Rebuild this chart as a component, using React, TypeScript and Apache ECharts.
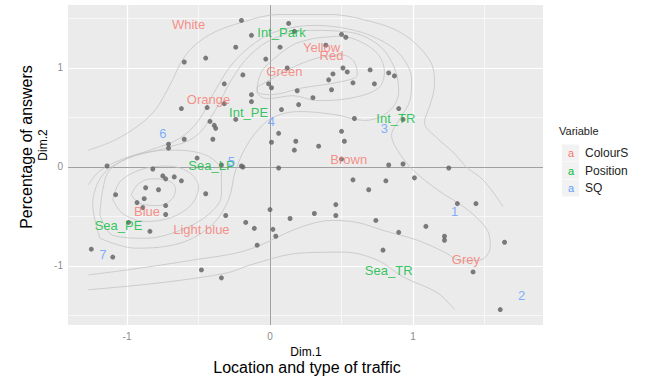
import React, { useEffect, useRef } from "react";
import * as echarts from "echarts";

// ---------- data ----------
const xTicks = [-1, 0, 1];
const yTicks = [-1, 0, 1];
const xMinor = [-0.5, 0.5, 1.5];
const yMinor = [-1.5, -0.5, 0.5, 1.5];

// individuals (Dim.1, Dim.2)
const individuals: number[][] = [
  [-0.20, 1.48], [-0.13, 1.33], [-0.24, 1.21], [-0.45, 1.10], [-0.60, 1.06], [-0.03, 1.09],
  [-0.19, 0.93], [-0.32, 0.84], [-0.01, 0.84], [0.01, 0.80], [-0.13, 0.73], [-0.13, 0.66],
  [-0.62, 0.59], [-0.44, 0.60], [-0.32, 0.64], [-0.24, 0.48], [-0.42, 0.46], [-0.39, 0.42],
  [-0.38, 0.39], [-0.60, 0.28], [-0.40, 0.28], [-0.71, 0.23], [-0.71, 0.19], [0.01, 0.25],
  [-0.51, 0.09], [-1.14, 0.01], [-0.34, 0.02], [-0.20, 0.01], [-0.19, 0.00], [0.13, 1.45],
  [0.17, 1.37], [0.07, 1.21], [0.50, 1.34], [0.53, 1.31], [0.39, 1.23], [0.12, 1.00],
  [0.51, 1.00], [0.54, 0.96], [0.70, 0.98], [0.83, 0.95], [0.87, 0.92], [0.44, 0.94],
  [0.41, 0.88], [0.58, 0.85], [0.73, 0.84], [0.43, 0.78], [0.19, 0.77], [0.30, 0.70],
  [0.20, 0.63], [0.08, 0.58], [0.90, 0.59], [0.93, 0.48], [0.59, 0.49], [0.06, 0.34],
  [0.50, 0.36], [0.18, 0.26], [0.52, 0.26], [0.17, 0.17], [0.34, 0.21], [0.50, 0.08],
  [0.83, 0.02], [0.93, 0.03], [1.25, -0.01], [0.06, -0.01], [-0.82, -0.02], [-0.75, -0.09],
  [-0.73, -0.12], [-0.67, -0.10], [-0.62, -0.14], [-0.87, -0.21], [-0.78, -0.23], [-1.08, -0.28],
  [-0.45, -0.27], [-0.88, -0.32], [-0.73, -0.39], [-0.93, -0.36], [-0.89, -0.41], [-0.73, -0.48],
  [-0.31, -0.49], [0.00, -0.43], [-0.17, -0.56], [-0.11, -0.62], [0.02, -0.63], [0.04, -0.70],
  [-0.99, -0.56], [-0.84, -0.65], [-0.09, -0.79], [-1.25, -0.83], [-1.10, -0.91], [-0.48, -1.04],
  [-0.34, -1.12], [1.01, -0.11], [0.58, -0.13], [0.81, -0.14], [0.69, -0.23], [0.46, -0.38],
  [0.46, -0.49], [0.31, -0.47], [0.14, -0.52], [1.31, -0.37], [1.44, -0.37], [0.74, -0.54],
  [0.90, -0.66], [1.09, -0.60], [1.22, -0.70], [1.22, -0.74], [1.64, -0.76], [0.79, -0.84],
  [1.42, -1.06], [1.61, -1.44],
];

// variable categories
const colourNames = ["White", "Yellow", "Red", "Green", "Orange", "Brown", "Blue", "Light blue", "Grey"];
const colourX = [-0.57, 0.36, 0.43, 0.10, -0.43, 0.55, -0.86, -0.48, 1.37];
const colourY = [1.44, 1.21, 1.13, 0.96, 0.68, 0.08, -0.45, -0.63, -0.93];

const positionNames = ["Int_Park", "Int_PE", "Int_TR", "Sea_LP", "Sea_PE", "Sea_TR"];
const positionX = [0.08, -0.15, 0.88, -0.41, -1.06, 0.83];
const positionY = [1.36, 0.55, 0.49, 0.01, -0.59, -1.05];

const sqNames = ["1", "2", "3", "4", "5", "6", "7"];
const sqX = [1.29, 1.76, 0.80, 0.01, -0.27, -0.75, -1.17];
const sqY = [-0.45, -1.30, 0.39, 0.46, 0.06, 0.34, -0.88];

const legendNames = ["ColourS", "Position", "SQ"];
const legendColors = ["#F8766D", "#00BA38", "#619CFF"];

// density contours
const contourOuterTop: number[][] = [
  [-1.27, 0.17], [-1.06, 0.29], [-0.83, 0.53], [-0.71, 0.80], [-0.59, 1.13], [-0.43, 1.33],
  [-0.20, 1.46], [0.07, 1.54], [0.42, 1.54], [0.73, 1.46], [0.91, 1.36], [1.05, 1.20],
  [1.14, 1.00], [1.15, 0.83], [1.12, 0.63], [1.08, 0.45], [1.17, 0.29], [1.28, 0.15],
  [1.38, -0.01], [1.49, -0.13], [1.63, -0.40],
];
const contourOuterBottom: number[][] = [
  [-1.27, -1.24], [-0.77, -1.17], [-0.30, -1.07], [-0.14, -0.99], [0.21, -0.87], [0.51, -0.86],
  [0.75, -0.94], [0.93, -1.11], [1.17, -1.27], [1.29, -1.44],
];
const contourLevel2: number[][] = [
  [-1.27, -1.09], [-1.00, -1.04], [-0.54, -0.94], [-0.16, -0.84], [0.21, -0.61], [0.44, -0.54],
  [0.61, -0.56], [0.79, -0.64], [1.03, -0.74], [1.22, -0.86], [1.34, -0.95], [1.47, -0.94],
  [1.54, -0.81], [1.52, -0.64], [1.38, -0.43], [1.17, -0.23], [1.00, -0.03], [0.90, 0.15],
  [0.85, 0.32], [0.91, 0.49], [0.98, 0.68], [0.99, 0.88], [0.93, 1.10], [0.80, 1.26],
  [0.59, 1.38], [0.31, 1.43], [0.07, 1.38], [-0.10, 1.26], [-0.27, 1.03], [-0.40, 0.73],
  [-0.50, 0.47], [-0.63, 0.29], [-0.84, 0.17], [-1.05, 0.07], [-1.20, -0.05], [-1.27, -0.18],
];
const contourLevel3: number[][] = [
  [-1.19, -0.72], [-1.24, -0.38], [-1.17, -0.08], [-0.99, 0.09], [-0.73, 0.19], [-0.52, 0.31],
  [-0.38, 0.58], [-0.27, 0.88], [-0.14, 1.13], [0.03, 1.30], [0.28, 1.38], [0.56, 1.36],
  [0.76, 1.23], [0.87, 1.00], [0.90, 0.76], [0.83, 0.56], [0.66, 0.47], [0.45, 0.53],
  [0.21, 0.56], [0.01, 0.49], [-0.14, 0.27], [-0.24, -0.03], [-0.29, -0.33], [-0.41, -0.59],
  [-0.63, -0.77], [-0.94, -0.82], [-1.19, -0.72],
];
const contourLeft3: number[][] = [
  [-1.19, -0.48], [-1.17, -0.23], [-1.12, -0.03], [-0.94, 0.12], [-0.70, 0.17], [-0.45, 0.12],
  [-0.34, -0.05], [-0.34, -0.28], [-0.43, -0.48], [-0.63, -0.64], [-0.87, -0.72], [-1.10, -0.69],
  [-1.19, -0.48],
];
const contourLeft2: number[][] = [
  [-1.10, -0.33], [-1.05, -0.15], [-0.91, -0.03], [-0.73, 0.01], [-0.57, -0.05], [-0.50, -0.20],
  [-0.55, -0.38], [-0.69, -0.51], [-0.87, -0.55], [-1.03, -0.47], [-1.10, -0.33],
];
const contourLeft1: number[][] = [
  [-0.97, -0.28], [-0.92, -0.17], [-0.83, -0.12], [-0.71, -0.14], [-0.66, -0.22], [-0.69, -0.33],
  [-0.78, -0.39], [-0.91, -0.37], [-0.97, -0.28],
];
const contourUpper2: number[][] = [
  [0.31, 1.30], [0.49, 1.32], [0.64, 1.26], [0.76, 1.13], [0.80, 0.96], [0.76, 0.80],
  [0.58, 0.70], [0.33, 0.67], [0.16, 0.72], [-0.02, 0.69], [-0.09, 0.76], [-0.06, 0.96],
  [0.05, 1.12], [0.17, 1.24], [0.31, 1.30],
];
const contourUpper1: number[][] = [
  [-0.09, 0.81], [0.00, 0.88], [0.12, 0.98], [0.33, 1.10], [0.51, 1.13], [0.59, 1.06],
  [0.61, 0.93], [0.49, 0.86], [0.23, 0.80], [0.00, 0.73], [-0.09, 0.76], [-0.09, 0.81],
];

const contours = [
  contourOuterTop, contourOuterBottom, contourLevel2, contourLevel3,
  contourLeft3, contourLeft2, contourLeft1, contourUpper2, contourUpper1,
];

const FONT = "'Liberation Sans', Arial, sans-serif";

function labelSeries(names: string[], xs: number[], ys: number[], color: string) {
  return {
    type: "scatter",
    z: 5,
    symbol: "circle",
    symbolSize: 1,
    silent: true,
    itemStyle: { color: "transparent" },
    label: {
      show: true,
      position: "inside",
      formatter: "{b}",
      color,
      fontSize: 13,
      fontFamily: FONT,
    },
    data: names.map((n, i) => ({ name: n, value: [xs[i], ys[i]] })),
  };
}

export default function App() {
  const ref = useRef<HTMLDivElement>(null);

  useEffect(() => {
    document.body.style.margin = "0";
    if (!ref.current) return;
    const chart = echarts.init(ref.current, null, { renderer: "svg" });

    const gridLines = [
      ...xMinor.map((v) => ({ xAxis: v, lineStyle: { color: "#ffffff", width: 0.6, type: "solid" } })),
      ...yMinor.map((v) => ({ yAxis: v, lineStyle: { color: "#ffffff", width: 0.6, type: "solid" } })),
      ...xTicks.map((v) => ({ xAxis: v, lineStyle: { color: "#ffffff", width: 1.2, type: "solid" } })),
      ...yTicks.map((v) => ({ yAxis: v, lineStyle: { color: "#ffffff", width: 1.2, type: "solid" } })),
      { xAxis: 0, lineStyle: { color: "#a0a0a0", width: 1, type: "solid" } },
      { yAxis: 0, lineStyle: { color: "#a0a0a0", width: 1, type: "solid" } },
    ];

    const contourSeries = contours.map((c, i) => ({
      type: "line",
      z: 2,
      silent: true,
      showSymbol: false,
      smooth: 0.35,
      lineStyle: { color: "#c4c4c4", width: 0.8 },
      data: c,
      ...(i === 0
        ? {
            markLine: {
              silent: true,
              symbol: ["none", "none"],
              label: { show: false },
              animation: false,
              z: 1,
              data: gridLines,
            },
          }
        : {}),
    }));

    const legendGraphics: any[] = [
      {
        type: "text",
        left: 559,
        top: 125,
        style: { text: "Variable", fontSize: 11, fill: "#222", fontFamily: FONT },
      },
    ];
    legendNames.forEach((n, i) => {
      const cy = 153 + i * 17.5;
      legendGraphics.push({
        type: "rect",
        shape: { x: 562, y: cy - 8.5, width: 17, height: 17 },
        style: { fill: "#f2f2f2" },
      });
      legendGraphics.push({
        type: "text",
        x: 571,
        y: cy,
        style: {
          text: "a",
          fontSize: 11,
          fill: legendColors[i],
          fontFamily: FONT,
          align: "center",
          verticalAlign: "middle",
        },
      });
      legendGraphics.push({
        type: "text",
        x: 585,
        y: cy,
        style: {
          text: n,
          fontSize: 12,
          fill: "#222",
          fontFamily: FONT,
          align: "left",
          verticalAlign: "middle",
        },
      });
    });

    const titleGraphics: any[] = [
      {
        type: "text",
        x: 26,
        y: 147,
        rotation: Math.PI / 2,
        style: {
          text: "Percentage of answers",
          fontSize: 16,
          fill: "#000",
          fontFamily: FONT,
          align: "center",
          verticalAlign: "middle",
        },
      },
      {
        type: "text",
        x: 43,
        y: 145,
        rotation: Math.PI / 2,
        style: {
          text: "Dim.2",
          fontSize: 12,
          fill: "#000",
          fontFamily: FONT,
          align: "center",
          verticalAlign: "middle",
        },
      },
      {
        type: "text",
        x: 306,
        y: 352,
        style: {
          text: "Dim.1",
          fontSize: 12,
          fill: "#000",
          fontFamily: FONT,
          align: "center",
          verticalAlign: "middle",
        },
      },
      {
        type: "text",
        x: 307,
        y: 367,
        style: {
          text: "Location and type of traffic",
          fontSize: 16,
          fill: "#000",
          fontFamily: FONT,
          align: "center",
          verticalAlign: "middle",
        },
      },
    ];

    chart.setOption({
      animation: false,
      backgroundColor: "#ffffff",
      grid: {
        left: 68,
        top: 5,
        width: 475,
        height: 320,
        show: true,
        backgroundColor: "#ebebeb",
        borderWidth: 0,
      },
      xAxis: {
        type: "value",
        min: -1.413,
        max: 1.909,
        splitLine: { show: false },
        axisLine: { show: false },
        axisTick: {
          show: true,
          customValues: xTicks,
          length: 3,
          lineStyle: { color: "#8c8c8c" },
        },
        axisLabel: {
          customValues: xTicks,
          color: "#8c8c8c",
          fontSize: 10,
          margin: 6,
          fontFamily: FONT,
        },
      },
      yAxis: {
        type: "value",
        min: -1.596,
        max: 1.636,
        splitLine: { show: false },
        axisLine: { show: false },
        axisTick: {
          show: true,
          customValues: yTicks,
          length: 3,
          lineStyle: { color: "#8c8c8c" },
        },
        axisLabel: {
          customValues: yTicks,
          color: "#8c8c8c",
          fontSize: 10,
          margin: 5,
          fontFamily: FONT,
        },
      },
      series: [
        ...contourSeries,
        {
          type: "scatter",
          z: 4,
          silent: true,
          symbolSize: 5,
          itemStyle: { color: "#666666", opacity: 0.85 },
          data: individuals,
        },
        labelSeries(colourNames, colourX, colourY, legendColors[0]),
        labelSeries(positionNames, positionX, positionY, legendColors[1]),
        labelSeries(sqNames, sqX, sqY, legendColors[2]),
      ],
      graphic: [...legendGraphics, ...titleGraphics],
    });

    return () => chart.dispose();
  }, []);

  return <div ref={ref} style={{ width: 651, height: 378 }} />;
}
